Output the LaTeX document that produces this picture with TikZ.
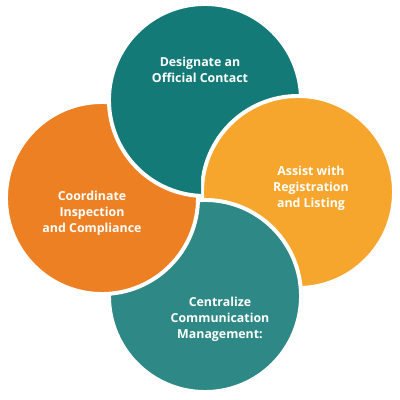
\documentclass[tikz,border=0pt]{standalone}
\usepackage{fontspec}
\setmainfont{Open Sans}
\usetikzlibrary{positioning}
\definecolor{tealdark}{HTML}{137A77}
\definecolor{teallight}{HTML}{2E8886}
\definecolor{petalorange}{HTML}{EE8024}
\definecolor{petalyellow}{HTML}{F6A62C}
\tikzset{
  petal/.style={circle, draw=white, line width=2.8pt, minimum size=4.8cm, inner sep=0pt},
  petaltext/.style={align=center, text=white, font=\fontsize{8.8}{11.5}\selectfont\bfseries},
}

\begin{document}
\begin{tikzpicture}[x=0.025cm, y=0.025cm]
  \useasboundingbox (0,0) rectangle (400,400);
  % petals, each one lies over the next
  \node[petal, fill=tealdark] (official) at (205,300) {};
  \node[petal, fill=petalyellow] (assist) at (298,208) {};
  \node[petal, fill=teallight] (centralize) at (205,104) {};
  \node[petal, fill=petalorange] (coordinate) at (102,202) {};
  % top petal again, over the left one
  \begin{scope}
    \clip (0,0) rectangle (201,400);
    \node[petal, fill=tealdark] (officialtop) at (official.center) {};
  \end{scope}
  % labels
  \node[petaltext] (officiallabel) at (200,330) {Designate an\\Official Contact};
  \node[petaltext] (assistlabel) at (311,212) {Assist with\\Registration\\and Listing};
  \node[petaltext] (coordinatelabel) at (92,187) {Coordinate\\Inspection\\and Compliance};
  \node[petaltext] (centralizelabel) at (220,81) {Centralize\\Communication\\Management:};
\end{tikzpicture}
\end{document}
